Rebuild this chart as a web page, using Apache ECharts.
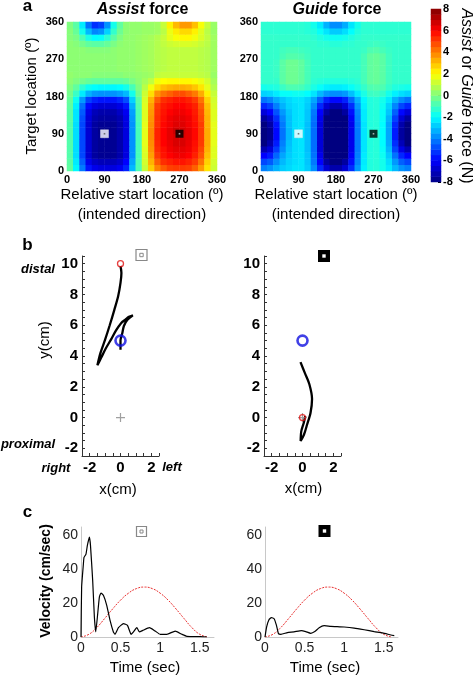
<!DOCTYPE html>
<html><head><meta charset="utf-8">
<script src="https://cdn.jsdelivr.net/npm/echarts/dist/echarts.min.js"></script>
<style>html,body{margin:0;padding:0;background:#fff}#c{width:473px;height:676px}</style>
</head><body><div id="c"></div>
<script>
// ---------- DATA ----------
const angleCenters = ['7.5','22.5','37.5','52.5','67.5','82.5','97.5','112.5','127.5','142.5','157.5','172.5','187.5','202.5','217.5','232.5','247.5','262.5','277.5','292.5','307.5','322.5','337.5','352.5'];
// rows: bottom (target 7.5deg) -> top (352.5deg); columns: start location 7.5 -> 352.5
const assistRows = [
[-0.5,-2.1,-4.1,-5.7,-6.3,-6.5,-6.5,-6.5,-6.2,-5.5,-3.1,-0.8,1.1,2.8,4.0,4.6,5.0,5.1,5.1,5.0,4.5,3.6,2.4,1.2],
[-0.6,-2.3,-4.5,-6.3,-6.9,-7.1,-7.1,-7.1,-6.8,-6.0,-3.4,-0.8,1.3,3.2,4.6,5.3,5.5,5.7,5.7,5.5,5.1,4.2,2.7,1.3],
[-0.7,-2.5,-4.9,-6.7,-7.5,-7.7,-7.7,-7.7,-7.3,-6.5,-3.7,-0.9,1.4,3.5,5.1,5.7,6.0,6.2,6.2,6.0,5.5,4.7,3.0,1.5],
[-0.7,-2.5,-4.9,-6.7,-7.5,-7.7,-7.7,-7.7,-7.3,-6.5,-3.7,-0.9,1.5,3.7,5.3,5.8,6.2,6.4,6.4,6.2,5.7,4.9,3.2,1.5],
[-0.7,-2.5,-4.9,-6.7,-7.5,-7.7,-7.7,-7.7,-7.3,-6.5,-3.7,-0.9,1.6,3.8,5.4,6.0,6.3,6.6,6.6,6.3,5.8,5.1,3.3,1.6],
[-0.7,-2.5,-4.9,-6.7,-7.5,-7.7,-7.7,-7.7,-7.3,-6.5,-3.7,-0.9,1.6,3.9,5.5,6.0,6.4,6.6,6.6,6.4,5.9,5.1,3.3,1.6],
[-0.7,-2.5,-4.9,-6.7,-7.5,-7.8,-7.8,-7.7,-7.3,-6.5,-3.7,-0.9,1.6,3.9,5.5,6.0,6.4,6.8,6.7,6.4,5.9,5.1,3.3,1.6],
[-0.7,-2.5,-4.9,-6.7,-7.5,-7.7,-7.7,-7.7,-7.3,-6.5,-3.7,-0.9,1.6,3.8,5.3,5.9,6.2,6.5,6.5,6.2,5.8,5.1,3.2,1.6],
[-0.6,-2.4,-4.8,-6.6,-7.3,-7.5,-7.5,-7.5,-7.2,-6.4,-3.6,-0.8,1.5,3.7,5.3,5.8,6.2,6.4,6.4,6.2,5.7,4.9,3.2,1.5],
[-0.6,-2.4,-4.6,-6.4,-7.1,-7.3,-7.3,-7.3,-6.9,-6.2,-3.5,-0.8,1.5,3.6,5.2,5.7,6.0,6.2,6.2,6.0,5.6,4.8,3.1,1.5],
[-0.5,-2.2,-4.3,-5.9,-6.5,-6.7,-6.7,-6.7,-6.4,-5.7,-3.2,-0.7,1.5,3.5,5.1,5.6,5.8,6.0,6.0,5.8,5.5,4.6,3.0,1.4],
[-0.4,-1.8,-3.6,-5.0,-5.5,-5.7,-5.7,-5.7,-5.4,-4.8,-2.7,-0.6,1.4,3.2,4.6,5.3,5.5,5.7,5.7,5.5,5.1,4.2,2.7,1.3],
[-0.2,-1.1,-2.3,-3.2,-3.6,-3.7,-3.7,-3.7,-3.5,-3.1,-1.7,-0.2,1.2,2.5,3.7,4.2,4.5,4.8,4.8,4.5,4.1,3.3,2.2,1.1],
[0.0,-0.5,-1.3,-1.8,-2.0,-2.1,-2.1,-2.1,-2.0,-1.7,-0.9,0.0,0.9,1.8,2.6,3.0,3.2,3.3,3.3,3.2,2.9,2.4,1.6,0.8],
[0.2,0.0,-0.2,-0.4,-0.5,-0.5,-0.5,-0.5,-0.5,-0.4,-0.1,0.2,0.6,1.0,1.8,2.0,2.1,2.1,2.1,2.1,1.9,1.7,1.3,0.6],
[0.3,0.2,0.2,0.2,0.1,0.1,0.1,0.1,0.1,0.2,0.2,0.3,0.4,0.5,1.0,1.1,1.1,1.1,1.1,1.1,1.1,1.0,0.9,0.4],
[0.2,0.2,0.2,0.2,0.2,0.2,0.2,0.2,0.3,0.3,0.3,0.4,0.5,0.6,0.8,0.9,1.0,1.0,1.0,1.0,1.0,0.9,0.8,0.5],
[0.2,0.2,0.2,0.2,0.2,0.2,0.2,0.2,0.3,0.3,0.3,0.4,0.5,0.6,0.8,0.9,1.0,1.0,1.0,1.0,1.0,0.9,0.8,0.5],
[0.2,0.2,0.2,0.2,0.2,0.2,0.2,0.2,0.3,0.3,0.3,0.4,0.5,0.6,0.8,0.9,1.0,1.0,1.0,1.0,1.0,0.9,0.8,0.5],
[0.2,0.2,0.2,0.1,0.1,0.1,0.1,0.2,0.3,0.3,0.3,0.4,0.5,0.6,0.8,0.9,1.0,1.0,1.0,1.0,1.0,0.9,0.8,0.5],
[0.2,0.1,-0.2,-0.5,-0.6,-0.6,-0.4,-0.1,0.2,0.3,0.3,0.4,0.5,0.6,0.8,1.0,1.2,1.3,1.4,1.4,1.3,1.1,0.9,0.5],
[0.1,-0.1,-0.8,-1.6,-2.0,-1.9,-1.3,-0.6,0.0,0.3,0.3,0.4,0.5,0.6,0.8,1.1,1.6,1.9,2.1,2.1,1.8,1.4,1.0,0.5],
[0.1,-0.4,-1.7,-3.1,-3.9,-3.7,-2.7,-1.2,-0.3,0.2,0.3,0.3,0.4,0.4,0.5,0.9,1.7,2.3,2.6,2.6,2.2,1.5,0.9,0.4],
[0.0,-0.6,-2.3,-4.2,-5.3,-5.0,-3.7,-1.7,-0.5,0.2,0.3,0.3,0.4,0.4,0.5,1.1,2.2,3.1,3.6,3.6,3.0,1.9,1.1,0.4]
];
const guideRows = [
[-4.0,-3.7,-3.2,-2.8,-2.6,-2.4,-2.4,-2.8,-3.8,-5.4,-6.7,-7.3,-7.3,-6.7,-5.3,-3.6,-2.2,-1.5,-1.4,-1.7,-2.3,-3.1,-3.7,-4.0],
[-4.9,-4.6,-3.8,-3.1,-2.7,-2.5,-2.4,-2.9,-4.1,-6.0,-7.5,-8.0,-8.0,-7.5,-5.8,-3.9,-2.3,-1.5,-1.4,-1.7,-2.5,-3.6,-4.5,-4.9],
[-6.0,-5.6,-4.4,-3.4,-2.8,-2.5,-2.4,-2.9,-4.2,-6.3,-8.0,-8.0,-8.0,-8.0,-6.1,-4.0,-2.3,-1.5,-1.4,-1.8,-2.8,-4.2,-5.4,-6.0],
[-7.2,-6.6,-5.1,-3.8,-2.9,-2.5,-2.4,-3.0,-4.3,-6.6,-8.0,-8.0,-8.0,-8.0,-6.3,-4.1,-2.4,-1.5,-1.4,-1.9,-3.1,-4.9,-6.4,-7.2],
[-8.0,-7.3,-5.6,-4.0,-3.0,-2.5,-2.4,-3.0,-4.3,-6.6,-8.0,-8.0,-8.0,-8.0,-6.3,-4.1,-2.4,-1.5,-1.4,-2.0,-3.3,-5.3,-7.1,-8.0],
[-8.0,-7.7,-5.9,-4.2,-3.1,-2.5,-2.4,-3.0,-4.3,-6.6,-8.0,-8.0,-8.0,-8.0,-6.3,-4.1,-2.4,-1.5,-1.4,-2.0,-3.4,-5.6,-7.5,-8.0],
[-8.0,-7.7,-5.9,-4.2,-3.1,-2.5,-2.4,-3.0,-4.3,-6.6,-8.0,-8.0,-8.0,-8.0,-6.3,-4.1,-2.4,-1.5,-1.4,-2.0,-3.4,-5.6,-7.5,-8.0],
[-8.0,-7.4,-5.7,-4.1,-3.0,-2.5,-2.4,-3.0,-4.3,-6.5,-8.0,-8.0,-8.0,-8.0,-6.3,-4.1,-2.4,-1.5,-1.4,-2.0,-3.4,-5.4,-7.3,-8.0],
[-7.5,-6.9,-5.3,-3.9,-3.0,-2.5,-2.4,-2.9,-4.2,-6.3,-8.0,-8.0,-8.0,-8.0,-6.1,-4.0,-2.3,-1.5,-1.4,-1.9,-3.2,-5.0,-6.7,-7.5],
[-6.6,-6.0,-4.7,-3.6,-2.9,-2.5,-2.4,-2.9,-4.1,-6.0,-7.5,-8.0,-8.0,-7.5,-5.8,-3.9,-2.3,-1.5,-1.4,-1.9,-2.9,-4.5,-5.9,-6.6],
[-5.4,-5.0,-4.0,-3.2,-2.7,-2.5,-2.4,-2.8,-3.8,-5.4,-6.7,-7.3,-7.3,-6.7,-5.3,-3.6,-2.2,-1.5,-1.4,-1.8,-2.7,-3.9,-4.9,-5.4],
[-4.2,-3.9,-3.3,-2.9,-2.6,-2.4,-2.4,-2.7,-3.4,-4.5,-5.5,-5.9,-5.9,-5.5,-4.4,-3.2,-2.1,-1.5,-1.4,-1.7,-2.3,-3.2,-3.8,-4.2],
[-2.7,-2.6,-2.3,-1.9,-1.9,-1.8,-1.8,-2.0,-2.4,-3.1,-3.6,-3.8,-3.8,-3.6,-3.0,-2.3,-1.6,-1.1,-1.0,-1.2,-1.7,-2.2,-2.5,-2.7],
[-1.7,-1.6,-1.5,-1.1,-0.8,-0.8,-0.9,-1.2,-1.6,-1.9,-2.2,-2.3,-2.3,-2.2,-1.9,-1.6,-1.2,-0.8,-0.7,-0.8,-1.2,-1.5,-1.6,-1.7],
[-1.2,-1.2,-1.2,-0.6,-0.3,-0.3,-0.5,-0.9,-1.3,-1.4,-1.5,-1.5,-1.5,-1.5,-1.4,-1.3,-0.9,-0.5,-0.4,-0.6,-1.0,-1.2,-1.2,-1.2],
[-1.2,-1.2,-1.1,-0.6,-0.3,-0.3,-0.5,-0.9,-1.2,-1.2,-1.2,-1.2,-1.2,-1.2,-1.2,-1.2,-0.9,-0.5,-0.4,-0.6,-1.0,-1.2,-1.2,-1.2],
[-1.2,-1.2,-1.1,-0.6,-0.3,-0.3,-0.5,-0.9,-1.2,-1.2,-1.2,-1.2,-1.2,-1.2,-1.2,-1.2,-0.9,-0.5,-0.4,-0.6,-1.0,-1.2,-1.2,-1.2],
[-1.2,-1.2,-1.1,-0.6,-0.3,-0.3,-0.5,-0.9,-1.2,-1.2,-1.2,-1.2,-1.2,-1.2,-1.2,-1.2,-0.9,-0.5,-0.4,-0.6,-1.0,-1.2,-1.2,-1.2],
[-1.2,-1.2,-1.2,-0.9,-0.7,-0.7,-0.8,-1.0,-1.2,-1.2,-1.2,-1.2,-1.2,-1.2,-1.2,-1.2,-0.9,-0.5,-0.4,-0.6,-1.0,-1.2,-1.2,-1.2],
[-1.2,-1.2,-1.2,-1.0,-0.9,-0.9,-1.0,-1.1,-1.2,-1.2,-1.2,-1.2,-1.2,-1.2,-1.2,-1.2,-1.1,-0.8,-0.7,-0.9,-1.1,-1.2,-1.2,-1.2],
[-1.2,-1.2,-1.2,-1.2,-1.2,-1.2,-1.2,-1.2,-1.2,-1.3,-1.3,-1.4,-1.4,-1.3,-1.3,-1.2,-1.2,-1.1,-1.0,-1.1,-1.2,-1.2,-1.2,-1.2],
[-1.2,-1.2,-1.2,-1.2,-1.2,-1.2,-1.2,-1.2,-1.3,-1.5,-1.7,-1.8,-1.8,-1.7,-1.5,-1.3,-1.2,-1.2,-1.2,-1.2,-1.2,-1.2,-1.2,-1.2],
[-1.3,-1.3,-1.3,-1.3,-1.3,-1.3,-1.3,-1.4,-1.5,-1.9,-2.4,-2.8,-2.8,-2.5,-2.0,-1.5,-1.3,-1.3,-1.3,-1.3,-1.3,-1.3,-1.3,-1.3],
[-1.3,-1.3,-1.3,-1.3,-1.3,-1.3,-1.3,-1.4,-1.7,-2.3,-3.2,-3.8,-3.8,-3.3,-2.4,-1.7,-1.3,-1.3,-1.3,-1.3,-1.3,-1.3,-1.3,-1.3]
];
const colorbarLevels = [-7.75,-7.25,-6.75,-6.25,-5.75,-5.25,-4.75,-4.25,-3.75,-3.25,-2.75,-2.25,-1.75,-1.25,-0.75,-0.25,0.25,0.75,1.25,1.75,2.25,2.75,3.25,3.75,4.25,4.75,5.25,5.75,6.25,6.75,7.25,7.75];
const whiteStart = [[90, 90]];
const blackStart = [[270, 90]];

const assistTrajX = [0.0,0.0,0.12,0.22,0.45,0.8,0.55,0.3,0.05,-0.3,-0.6,-0.95,-1.25,-1.5,-1.3,-1.0,-0.7,-0.4,-0.15,0.0,0.06,0.0];
const assistTrajY = [4.4,5.0,5.5,5.95,6.35,6.65,6.55,6.35,6.15,5.65,5.1,4.5,3.9,3.4,4.2,5.06,6.0,7.0,7.9,8.75,9.4,9.85];
const guideTrajX = [-0.13,0.15,0.45,0.62,0.52,0.3,0.1,-0.12,-0.08,0.08,0.18];
const guideTrajY = [3.6,2.9,2.15,1.2,0.3,-0.45,-1.1,-1.52,-0.9,-0.35,0.1];
const assistTarget = [[0, 10]];
const guideTarget = [[0, 0]];
const startPoint = [[0, 5]];
const homePoint = [[0, 0]];

const assistVelT = [0,0.008,0.03,0.038,0.063,0.08,0.106,0.12,0.148,0.169,0.186,0.207,0.232,0.253,0.283,0.325,0.367,0.409,0.43,0.473,0.536,0.587,0.633,0.663,0.705,0.739,0.78,0.865,0.937,1.0,1.085,1.19,1.274,1.337,1.506,1.59];
const assistVel  = [0,29.5,43,47,49,54,59,54,33,11.8,3,11.8,23.6,26,24.6,18.7,9.8,3,1.6,5.5,7.9,6.9,1.6,3,5.5,3,3.9,5.5,3.5,1.6,1.6,3.5,1.6,0.4,0.2,0];
const guideVelT = [0,0.02,0.05,0.08,0.115,0.144,0.17,0.2,0.283,0.367,0.46,0.515,0.578,0.629,0.684,0.747,0.832,1.0,1.127,1.253,1.38,1.486,1.59,1.633];
const guideVel  = [0,5.9,10.2,11.4,10.8,7,2,1.6,2.6,3,3.8,3.2,2.2,3.2,5.5,6.7,6.3,5.9,5.3,4.3,3.2,2.4,1.2,0.8];
const idealT   = [0,0.1,0.2,0.3,0.4,0.5,0.6,0.7,0.8,0.9,1.0,1.1,1.2,1.3,1.4,1.5,1.6];
const idealVel = [0,1.6,5.6,11,16.6,21.8,25.9,28.6,29.5,28.6,25.9,21.8,16.6,11,5.6,1.6,0];

// ---------- CHART ----------
const FONT = '"Liberation Sans", Arial, Helvetica, sans-serif';
const jet = ['#000080','#0000ff','#0080ff','#00ffff','#80ff80','#ffff00','#ff8000','#ff0000','#800000'];
function cells(rows){const o=[];rows.forEach((r,yi)=>r.forEach((v,xi)=>o.push([xi,yi,v])));return o;}
function zip(a,b){return a.map((v,i)=>[v,b[i]]);}
const evenLabel = v => (Math.abs(v/2 - Math.round(v/2)) < 1e-6) ? String(Math.round(v)) : '';

const hmLabel = {fontFamily:FONT,fontWeight:'bold',fontSize:11,color:'#000',margin:3};
const hmVal = (gi,pos)=>({type:'value',gridIndex:gi,position:pos,min:0,max:360,interval:90,axisLine:{show:false,onZero:false},axisTick:{show:false},splitLine:{show:false},axisLabel:hmLabel});
const hmCat = (gi,pos)=>({type:'category',gridIndex:gi,position:pos,data:angleCenters,show:false});
const trajAx = (gi,min,max,pos)=>({type:'value',gridIndex:gi,position:pos,min:min,max:max,interval:0.5,
  axisLine:{show:true,onZero:false,lineStyle:{color:'#333',width:1}},
  axisTick:{show:true,inside:true,length:3,lineStyle:{color:'#333'}},
  splitLine:{show:false},
  axisLabel:{formatter:evenLabel,fontFamily:FONT,fontWeight:'bold',fontSize:15,color:'#000',margin:4}});
const velX = (gi)=>({type:'value',gridIndex:gi,position:'bottom',min:0,max:1.68,interval:0.5,
  axisLine:{show:true,onZero:false,lineStyle:{color:'#c8c8c8',width:1}},axisTick:{show:false},splitLine:{show:false},
  axisLabel:{showMaxLabel:false,fontFamily:FONT,fontSize:14,color:'#222',margin:4}});
const velY = (gi)=>({type:'value',gridIndex:gi,position:'left',min:0,max:65,interval:20,
  axisLine:{show:true,onZero:false,lineStyle:{color:'#c8c8c8',width:1}},axisTick:{show:false},splitLine:{show:false},
  axisLabel:{showMaxLabel:false,fontFamily:FONT,fontSize:14,color:'#222',margin:3}});

const G = (l,t,w,h)=>({left:l,top:t,width:w,height:h,containLabel:false,outerBoundsMode:'none'});

function txt(text,x,y,o){o=o||{};return {type:'text',x:x,y:y,rotation:o.rot||0,silent:true,
  style:{text:text,fontFamily:FONT,fontSize:o.size||15,fontWeight:o.w||'normal',fontStyle:o.s||'normal',
  fill:'#000',align:'center',verticalAlign:'middle',textAlign:'center',textVerticalAlign:'middle',rich:o.rich}};}
function rect(x,y,w,h,fill,stroke,lw){return {type:'rect',silent:true,shape:{x:x,y:y,width:w,height:h},style:{fill:fill,stroke:stroke||null,lineWidth:lw||0}};}

const richTitle = {i:{fontFamily:FONT,fontSize:16,fontWeight:'bold',fontStyle:'italic'},n:{fontFamily:FONT,fontSize:16,fontWeight:'bold'}};
const richCb = {i:{fontFamily:FONT,fontSize:16,fontStyle:'italic'},n:{fontFamily:FONT,fontSize:16}};

const graphics = [
  txt('a',27.5,6,{size:17,w:'bold'}),
  txt('b',27.5,245,{size:17,w:'bold'}),
  txt('c',27.5,512,{size:17,w:'bold'}),
  txt('{i|Assist}{n| force}',142.5,10,{rich:richTitle,size:16}),
  txt('{i|Guide}{n| force}',337,10,{rich:richTitle,size:16}),
  txt('Target location (º)',32,96,{rot:Math.PI/2,size:15}),
  txt('Relative start location (º)',142,195,{size:15}),
  txt('(intended direction)',142,215,{size:15}),
  txt('Relative start location (º)',336,195,{size:15}),
  txt('(intended direction)',336,215,{size:15}),
  txt('{i|Assist}{n| or }{i|Guide}{n| force (N)}',466,96,{rot:-Math.PI/2,size:16,rich:richCb}),
  txt('distal',38,269,{size:13,w:'bold',s:'italic'}),
  txt('proximal',28,444,{size:13,w:'bold',s:'italic'}),
  txt('right',56,468,{size:13,w:'bold',s:'italic'}),
  txt('left',172,467,{size:13,w:'bold',s:'italic'}),
  txt('y(cm)',45,340,{rot:Math.PI/2,size:15}),
  txt('x(cm)',118,490,{size:15}),
  txt('x(cm)',303.5,489,{size:15}),
  txt('Velocity (cm/sec)',46,581,{rot:Math.PI/2,size:14,w:'bold'}),
  txt('Time (sec)',145,668,{size:15}),
  txt('Time (sec)',325,668,{size:15}),
  // condition icons
  rect(136,249.5,11,11,'#fff','#888',1.2), rect(139.8,253.3,3.4,3.4,'#fff','#888',1),
  rect(318,250,12,12,'#000'), rect(322.3,254.3,3.4,3.4,'#fff'),
  rect(136.5,526.5,10,10,'#fff','#888',1.2), rect(140,530,3,3,'#fff','#888',1),
  rect(318.5,525,12,12,'#000'), rect(322.8,529.3,3.4,3.4,'#fff')
];

const circleRed = {symbol:'circle',symbolSize:6,itemStyle:{color:'rgba(0,0,0,0)',borderColor:'#e01010',borderWidth:1.3}};
const circleBlue = {symbol:'circle',symbolSize:10,itemStyle:{color:'rgba(0,0,0,0)',borderColor:'#1010e0',borderWidth:2.6}};
const crossGray = {symbol:'path://M5,0L5,10M0,5L10,5',symbolSize:9,itemStyle:{color:'rgba(0,0,0,0)',borderColor:'#888',borderWidth:1.2}};
function sc(data,xi,yi,st,z){return Object.assign({type:'scatter',xAxisIndex:xi,yAxisIndex:yi,data:data,silent:true,z:z||5},JSON.parse(JSON.stringify(st)));}
function ln(x,y,xi,yi,color,width,type,smooth){return {type:'line',xAxisIndex:xi,yAxisIndex:yi,data:zip(x,y),showSymbol:false,silent:true,smooth:smooth,
  lineStyle:{color:color,width:width,type:type||'solid'},z:3};}

const whiteSq = {symbol:'rect',symbolSize:8,itemStyle:{color:'#fff',borderColor:'#e8e8e8',borderWidth:0.5}};
const blackSq = {symbol:'rect',symbolSize:8,itemStyle:{color:'#000'}};
const darkDot = {symbol:'rect',symbolSize:1.6,itemStyle:{color:'#555'}};
const lightDot = {symbol:'rect',symbolSize:1.6,itemStyle:{color:'#ccc'}};

const option = {
  animation:false,
  backgroundColor:'#fff',
  grid:[G(67,22,150,149),G(261,22,150,149),G(431,9,10,173),G(82,256,77,200),G(264,256,77,200),G(81,527,133,110),G(265,527,133,110)],
  xAxis:[
    hmCat(0,'top'),
    hmVal(0,'bottom'),
    hmCat(1,'top'),
    hmVal(1,'bottom'),
    {type:'category',gridIndex:2,position:'top',data:['cb'],show:false},
    trajAx(3,-2.5,2.5,'bottom'),
    trajAx(4,-2.5,2.5,'bottom'),
    velX(5),
    velX(6)
  ],
  yAxis:[
    hmCat(0,'right'),
    hmVal(0,'left'),
    hmCat(1,'right'),
    hmVal(1,'left'),
    {type:'category',gridIndex:2,position:'left',data:colorbarLevels.map(String),show:false},
    {type:'value',gridIndex:2,position:'right',min:-8,max:8,interval:2,axisLine:{show:false,onZero:false},
      axisTick:{show:true,inside:true,length:3,lineStyle:{color:'#000'}},splitLine:{show:false},
      axisLabel:{fontFamily:FONT,fontWeight:'bold',fontSize:11,color:'#000',margin:2}},
    trajAx(3,-2.5,10.5,'left'),
    trajAx(4,-2.5,10.5,'left'),
    velY(5),
    velY(6)
  ],
  visualMap:{type:'continuous',min:-8,max:8,show:false,seriesIndex:[0,1,2],dimension:2,inRange:{color:jet}},
  series:[
    {type:'heatmap',xAxisIndex:0,yAxisIndex:0,data:cells(assistRows),silent:true,emphasis:{disabled:true},progressive:0},
    {type:'heatmap',xAxisIndex:2,yAxisIndex:2,data:cells(guideRows),silent:true,emphasis:{disabled:true},progressive:0},
    {type:'heatmap',xAxisIndex:4,yAxisIndex:4,data:colorbarLevels.map((v,i)=>[0,i,v]),silent:true,emphasis:{disabled:true},progressive:0},
    sc(whiteStart,1,1,whiteSq), sc(blackStart,1,1,blackSq), sc(whiteStart,1,1,darkDot,6), sc(blackStart,1,1,lightDot,6),
    sc(whiteStart,3,3,whiteSq), sc(blackStart,3,3,blackSq), sc(whiteStart,3,3,darkDot,6), sc(blackStart,3,3,lightDot,6),
    ln(assistTrajX,assistTrajY,5,6,'#000',2.3,'solid',0.3),
    ln(guideTrajX,guideTrajY,6,7,'#000',2.3,'solid',0.3),
    sc(homePoint,5,6,crossGray), sc(assistTarget,5,6,circleRed), sc(startPoint,5,6,circleBlue),
    sc(homePoint,6,7,crossGray), sc(guideTarget,6,7,circleRed), sc(startPoint,6,7,circleBlue),
    ln(idealT,idealVel,7,8,'#e83030',1,[2,1.2],true),
    ln(assistVelT,assistVel,7,8,'#000',1.2,'solid',0.15),
    ln(idealT,idealVel,8,9,'#e83030',1,[2,1.2],true),
    ln(guideVelT,guideVel,8,9,'#000',1.2,'solid',0.15)
  ],
  graphic:graphics
};
const chart = echarts.init(document.getElementById('c'),null,{renderer:'canvas'});
chart.setOption(option);
</script>
</body></html>
